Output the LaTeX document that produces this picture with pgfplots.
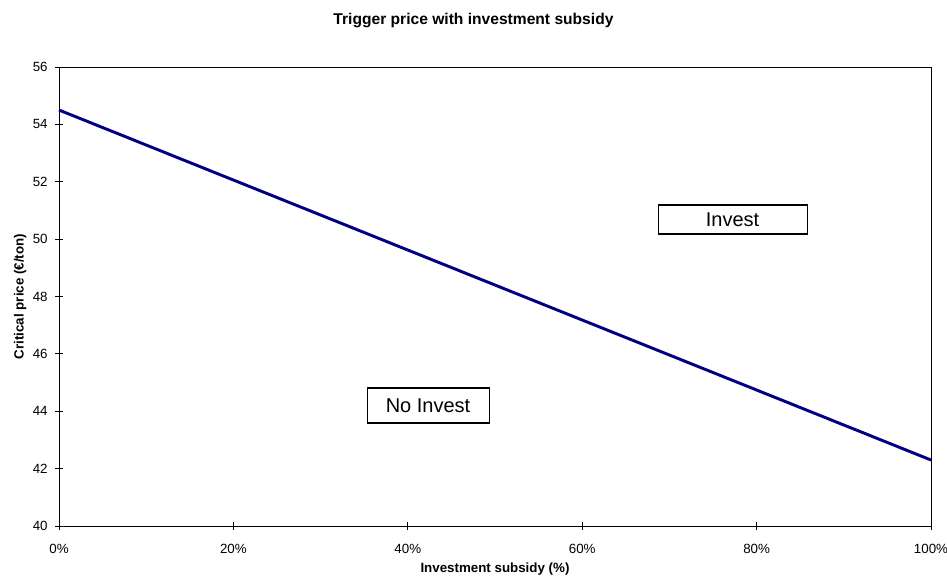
\documentclass[border=0pt]{standalone}
\usepackage{fontspec}
\setmainfont{Liberation Sans}
\usepackage{pgfplots}
\pgfplotsset{compat=1.18}
\definecolor{navyline}{RGB}{0,0,128}
\begin{document}
\begin{tikzpicture}
\begin{axis}[
  scale only axis,
  width=654pt, height=344.25pt,
  xmin=0, xmax=100, ymin=40, ymax=56,
  xtick={0,20,40,60,80,100},
  xticklabels={0\%,20\%,40\%,60\%,80\%,100\%},
  ytick={40,42,...,56},
  tick align=center,
  major tick length=6pt,
  xtick pos=bottom, ytick pos=left,
  tick style={black, line width=0.6pt},
  axis line style={black, line width=0.6pt},
  /pgf/number format/assume math mode=true,
  ticklabel style={font=\fontsize{10}{12}\selectfont},
  xticklabel style={yshift=-7pt},
  yticklabel style={xshift=-2pt},
  xlabel={\textbf{Investment subsidy (\%)}},
  ylabel={\textbf{Critical price (€/ton)}},
  xlabel style={font=\fontsize{10}{12}\selectfont, yshift=0pt},
  ylabel style={font=\fontsize{10}{12}\selectfont, yshift=-2pt},
  clip=false,
]
\addplot[navyline, line width=2.2pt] coordinates {(0,54.5) (100,42.3)};
\node[draw=black, line width=0.8pt, fill=white, minimum width=111.75pt, minimum height=21.75pt, inner sep=0pt, font=\fontsize{15}{18}\selectfont] at (rel axis cs:0.7724,0.6678) {Invest};
\node[draw=black, line width=0.8pt, fill=white, minimum width=91.5pt, minimum height=26.25pt, inner sep=0pt, font=\fontsize{15}{18}\selectfont] at (rel axis cs:0.4232,0.2625) {No Invest};
\node[font=\bfseries\fontsize{11.7}{14}\selectfont] at ([yshift=34.5pt]rel axis cs:0.4753,1) {Trigger price with investment subsidy};
\end{axis}
\pgfresetboundingbox
\useasboundingbox ([xshift=-44.25pt,yshift=-38.25pt]current axis.south west) rectangle ([xshift=12pt,yshift=50.25pt]current axis.north east);
\end{tikzpicture}
\end{document}
